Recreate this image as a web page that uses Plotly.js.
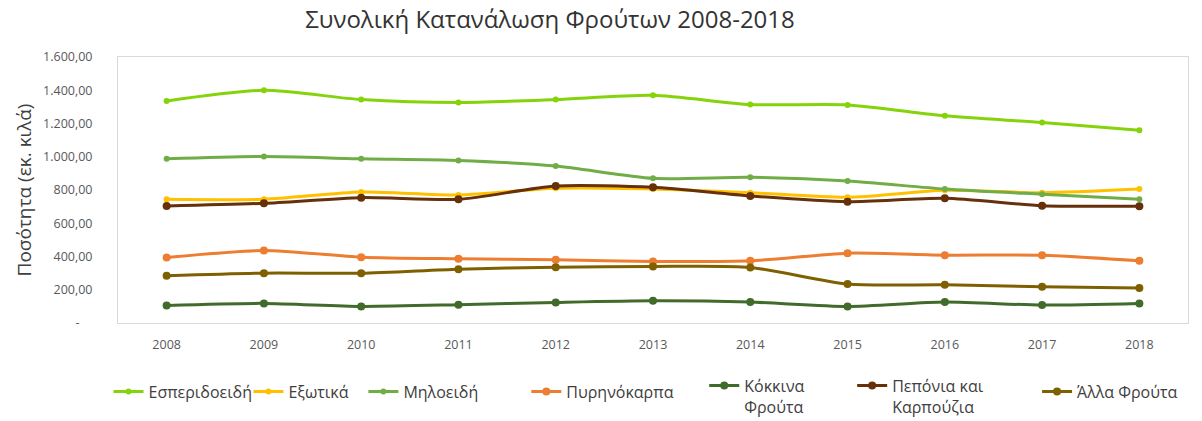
<!DOCTYPE html>
<html>
<head>
<meta charset="utf-8">
<script src="https://cdn.plot.ly/plotly-3.0.1.min.js"></script>
<style>html,body{margin:0;padding:0;background:#fff;}#chart{width:1202px;height:421px;}</style>
</head>
<body>
<div id="chart"></div>
<script>
const years = ['2008','2009','2010','2011','2012','2013','2014','2015','2016','2017','2018'];
const seriesNames = ['Εσπεριδοειδή','Εξωτικά','Μηλοειδή','Πυρηνόκαρπα','Κόκκινα<br>Φρούτα','Πεπόνια και<br>Καρπούζια','Άλλα Φρούτα'];
const esperidoeidi = [1336,1400,1344,1326,1344,1370,1314,1312,1246,1206,1160];
const exotika      = [744,744,788,770,810,806,784,756,798,784,806];
const miloeidi     = [988,1002,988,978,944,870,876,854,806,774,744];
const pyrinokarpa  = [394,436,396,386,380,370,374,420,408,408,374];
const kokkina      = [106,118,100,110,124,134,126,100,126,108,118];
const peponia      = [704,720,754,744,824,816,764,730,750,706,702];
const alla         = [284,300,300,324,336,340,334,234,230,218,210];
const yTickVals  = [0,200,400,600,800,1000,1200,1400,1600];
const yTickText  = ['-\u00a0\u00a0\u00a0\u00a0','200,00','400,00','600,00','800,00','1.000,00','1.200,00','1.400,00','1.600,00'];

const values = [esperidoeidi, exotika, miloeidi, pyrinokarpa, kokkina, peponia, alla];
const colors = ['#84D30B','#FFC000','#70AD47','#ED7D31','#416B2A','#65300A','#7F6000'];
const msize  = [6,6,6,8,8,8,8];
const legendX = [113,253,368,531,709,857,1042];
const twoLine = [false,false,false,false,true,true,false];

const L = 117.5, R = 1188, T = 56.7, B = 323.3;
const W = R - L, H = B - T;

const traces = values.map((v,i)=>({
  type:'scatter', mode:'lines+markers', x: years, y: v, name: seriesNames[i],
  line:{color:colors[i], width:3, shape:'spline', smoothing:0.7},
  marker:{color:colors[i], size:msize[i]},
  legend: i===0 ? 'legend' : 'legend'+(i+1),
  hoverinfo:'skip'
}));

const layout = {
  width:1202, height:421,
  paper_bgcolor:'#fff', plot_bgcolor:'#fff',
  margin:{l:L, r:1202-R, t:T, b:421-B, pad:0, autoexpand:false},
  font:{family:'Open Sans, sans-serif', color:'#404040'},
  title:{text:'Συνολική Κατανάλωση Φρούτων 2008-2018', font:{size:24, color:'#333333', family:'Open Sans, sans-serif'},
         x:550/1202, xanchor:'center', y:1-20/421, yanchor:'middle', xref:'container', yref:'container'},
  xaxis:{type:'category', range:[-0.5,10.5], showgrid:false, zeroline:false, automargin:false,
         showline:true, mirror:true, linecolor:'#D9D9D9', linewidth:1,
         ticks:'', tickfont:{size:12.5, color:'#595959'}, ticklabelstandoff:10},
  yaxis:{range:[0,1600], showgrid:false, zeroline:false, automargin:false,
         showline:true, mirror:true, linecolor:'#D9D9D9', linewidth:1,
         tickvals:yTickVals, ticktext:yTickText, ticks:'',
         tickfont:{size:12.5, color:'#595959'}, ticklabelstandoff:22,
         title:{text:'Ποσότητα (εκ. κιλά)', font:{size:19, color:'#404040'}, standoff:6}},
  showlegend:true
};
legendX.forEach((px,i)=>{
  const key = i===0 ? 'legend' : 'legend'+(i+1);
  layout[key] = {
    x:(px-5-L)/W, xanchor:'left',
    y: twoLine[i] ? (B-369)/H : (B-375)/H, yanchor:'top',
    orientation:'h', bgcolor:'rgba(0,0,0,0)', borderwidth:0,
    font:{size:16, color:'#404040', family:'Open Sans, sans-serif'},
    valign: twoLine[i] ? 'top' : 'middle', itemwidth:30
  };
});

Plotly.newPlot('chart', traces, layout, {displayModeBar:false, staticPlot:true});
</script>
</body>
</html>
